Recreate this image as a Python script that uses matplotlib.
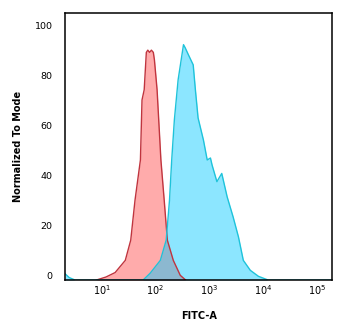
import numpy as np
import matplotlib
matplotlib.use("Agg")
import matplotlib.pyplot as plt
import matplotlib.transforms as mtransforms

# isotype control (red) - FITC-A intensity vs % of mode
red_x = [8, 12, 17.8, 27.5, 34.7, 41.7, 52.5, 56.2, 61.7, 67.6, 72, 77.6, 84, 91.2,
         95.5, 107, 126, 145, 166, 214, 288, 363]
red_y = [0, 1.2, 3.0, 7.9, 16.0, 32.1, 48.2, 72.3, 76.4, 91.4, 92.3, 91.4, 92.3, 91.4,
         88.4, 76.4, 48.2, 32.1, 16.0, 7.9, 1.9, 0]

# antibody stained sample (cyan)
cyan_x = [2.1, 2.5, 3.2, 58.9, 79.4, 123, 158, 182, 200, 224, 263, 331, 355, 407, 501,
          550, 617, 776, 912, 1047, 1122, 1380, 1698, 2138, 2754, 3467, 4266, 5754,
          8128, 12300, 190000]
cyan_y = [2.5, 1.0, 0, 0, 2.7, 7.9, 16.0, 32.1, 48.2, 64.3, 80.4, 94.5, 93.3, 90.5, 86.4,
          76.4, 65.1, 56.2, 48.2, 49.0, 46.2, 39.5, 42.8, 33.4, 25.4, 17.3, 7.9, 3.9,
          1.5, 0, 0]

y_ticks = [0, 20, 40, 60, 80, 100]
x_ticks = [1e1, 1e2, 1e3, 1e4, 1e5]
x_tick_labels = ["$10^{1}$", "$10^{2}$", "$10^{3}$", "$10^{4}$", "$10^{5}$"]

fig = plt.figure(figsize=(3.5, 3.26), dpi=100)
ax = fig.add_axes([0.186, 0.141, 0.763, 0.819])

# red first, cyan on top so the overlap turns grey-blue
ax.fill_between(red_x, red_y, 0, color="#ff0000", alpha=0.33, lw=0)
ax.plot(red_x, red_y, color="#c0343e", lw=1.0)
ax.fill_between(cyan_x, cyan_y, 0, color="#00c8ff", alpha=0.45, lw=0)
ax.plot(cyan_x, cyan_y, color="#1ec3da", lw=1.0)

ax.set_xscale("log")
ax.set_xlim(2.1, 1.9e5)
ax.set_ylim(0, 107.2)
ax.set_xticks(x_ticks)
ax.set_xticklabels(x_tick_labels)
ax.minorticks_off()
ax.set_yticks(y_ticks)

ax.tick_params(axis="y", length=0, pad=8.9, labelsize=6.8)
ax.tick_params(axis="x", length=0, pad=2, labelsize=7)

# y labels in the original sit a few pixels above their values
shift = mtransforms.ScaledTranslation(0, 0.05, fig.dpi_scale_trans)
for lab in ax.get_yticklabels():
    lab.set_transform(lab.get_transform() + shift)

for s in ax.spines.values():
    s.set_linewidth(1.1)

ax.set_xlabel("FITC-A", fontsize=7, fontweight="bold")
ax.set_ylabel("Normalized To Mode", fontsize=7, fontweight="bold")
ax.xaxis.set_label_coords(0.5, -0.116)
ax.yaxis.set_label_coords(-0.157, 0.5)

fig.savefig("out.png", dpi=100)
